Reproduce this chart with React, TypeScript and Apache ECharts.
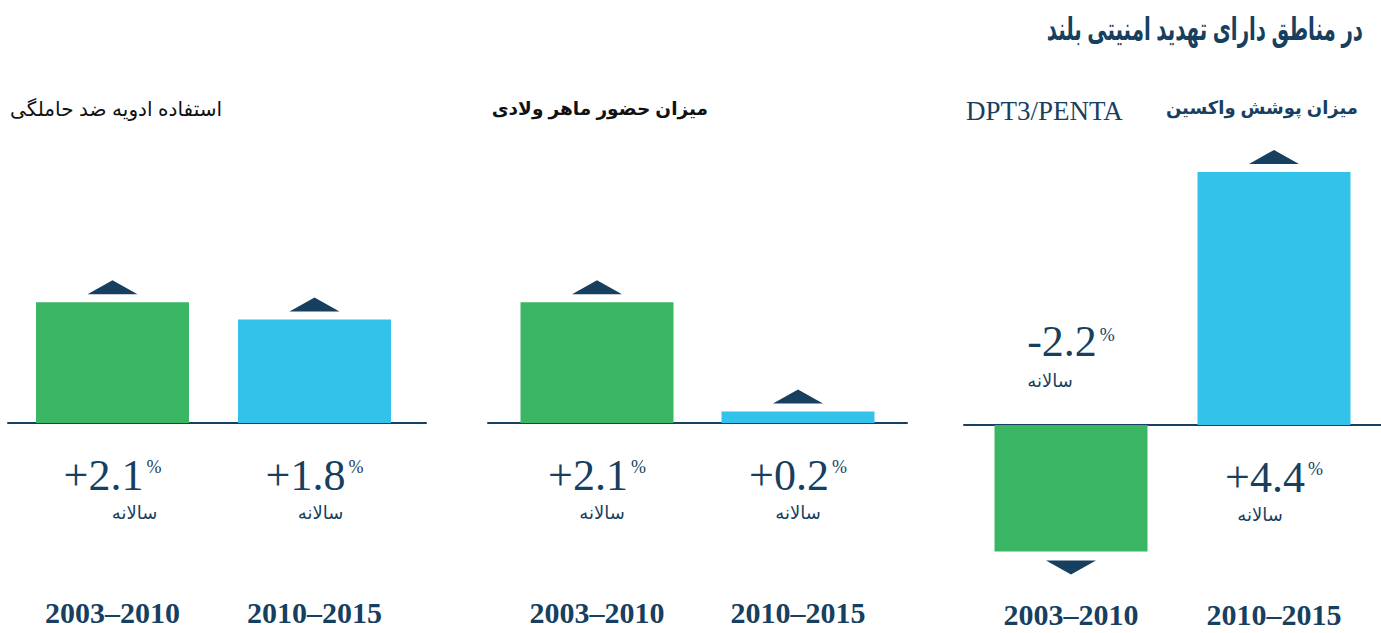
import React, { useEffect, useRef } from "react";
import * as echarts from "echarts";

const periods = ["2003–2010", "2010–2015"];
const contraceptiveUse = [2.1, 1.8];
const skilledBirthAttendance = [2.1, 0.2];
const vaccinationCoverage = [-2.2, 4.4];
const mainTitle = "در مناطق دارای تهدید امنیتی بلند";
const contraceptiveTitle = "استفاده ادویه ضد حاملگی";
const skilledBirthTitle = "میزان حضور ماهر ولادی";
const vaccinationTitle = "میزان پوشش واکسین";
const vaccinationSubtitle = "DPT3/PENTA";
const annualLabel = "سالانه";
const percentSign = "%";

const NAVY = "#173f5f";
const GREEN = "#3ab563";
const BLUE = "#32c2ea";
const periodColors = [GREEN, BLUE];
const SERIF = "Liberation Serif";
const SANS = "Liberation Sans, DejaVu Sans, sans-serif";
const NUM_SIZE = 44;
const PCT_SIZE = 18;
const PCT_GAP = 3;
const Y_MIN = -3;
const Y_MAX = 5;

const panels = [
  {
    values: contraceptiveUse,
    grid: { left: 11.5, width: 404, top: 135.5, height: 460 },
    lineGrid: { left: 8, width: 418 },
    annualShift: [22, 6],
  },
  {
    values: skilledBirthAttendance,
    grid: { left: 496.5, width: 402, top: 135.5, height: 460 },
    lineGrid: { left: 488, width: 419 },
    annualShift: [5, 0],
  },
  {
    values: vaccinationCoverage,
    grid: { left: 969.5, width: 406, top: 137.5, height: 460 },
    lineGrid: { left: 964, width: 417 },
    annualShift: [-21, -14],
  },
];

function fmt(v: number) {
  return (v > 0 ? "+" : "-") + Math.abs(v).toFixed(1);
}

let measureCtx: CanvasRenderingContext2D | null = null;
function textWidth(text: string, font: string) {
  if (!measureCtx) measureCtx = document.createElement("canvas").getContext("2d");
  if (!measureCtx) return text.length * 20;
  measureCtx.font = font;
  return measureCtx.measureText(text).width;
}

export default function App() {
  const ref = useRef<HTMLDivElement>(null);
  useEffect(() => {
    if (!ref.current) return;
    const chart = echarts.init(ref.current, null, { renderer: "svg" });
    const grid: any[] = [];
    const xAxis: any[] = [];
    const yAxis: any[] = [];
    const series: any[] = [];
    const pctW = textWidth(percentSign, `${PCT_SIZE}px ${SERIF}`);
    panels.forEach((p, i) => {
      // data grid (index i) and baseline grid (index 3 + i)
      grid[i] = { ...p.grid, containLabel: false };
      grid[3 + i] = { ...p.lineGrid, top: p.grid.top, height: p.grid.height, containLabel: false };
      xAxis[i] = {
        type: "category",
        gridIndex: i,
        data: periods,
        position: "bottom",
        axisLine: { show: false, onZero: false },
        axisTick: { show: false },
        axisLabel: {
          show: true,
          margin: 2,
          fontFamily: SERIF,
          fontWeight: "bold",
          fontSize: 30,
          color: NAVY,
        },
      };
      xAxis[3 + i] = {
        type: "category",
        gridIndex: 3 + i,
        data: periods,
        position: "bottom",
        axisLine: { show: true, onZero: true, lineStyle: { color: NAVY, width: 2 } },
        axisTick: { show: false },
        axisLabel: { show: false },
      };
      yAxis[i] = { type: "value", gridIndex: i, min: Y_MIN, max: Y_MAX, show: false };
      yAxis[3 + i] = { type: "value", gridIndex: 3 + i, min: Y_MIN, max: Y_MAX, show: false };
    });
    panels.forEach((p, i) => {
      series.push({
        type: "bar",
        xAxisIndex: i,
        yAxisIndex: i,
        barWidth: 153,
        data: p.values.map((v, k) => ({ value: v, itemStyle: { color: periodColors[k] } })),
      });
      series.push({
        type: "scatter",
        xAxisIndex: i,
        yAxisIndex: i,
        symbol: "triangle",
        symbolSize: [50, 14],
        itemStyle: { color: NAVY, opacity: 1 },
        data: p.values.map((v) => ({
          value: v,
          symbolRotate: v < 0 ? 180 : 0,
          symbolOffset: [0, v < 0 ? 16 : -15],
        })),
      });
      const labelSeries = (label: any, data: any[]) => ({
        type: "scatter",
        xAxisIndex: i,
        yAxisIndex: i,
        symbolSize: 1,
        silent: true,
        itemStyle: { color: "rgba(0,0,0,0)", opacity: 1 },
        label: { show: true, color: NAVY, ...label },
        data,
      });
      // growth number
      series.push(
        labelSeries(
          { fontFamily: SERIF, fontSize: NUM_SIZE, align: "right" },
          p.values.map((v) => {
            const w = textWidth(fmt(v), `${NUM_SIZE}px ${SERIF}`);
            const block = w + PCT_GAP + pctW;
            return {
              value: 0,
              label: {
                position: v < 0 ? "top" : "bottom",
                distance: v < 0 ? 61 : 30,
                formatter: fmt(v),
                offset: [-block / 2 + w, 0],
              },
            };
          })
        )
      );
      // percent sign
      series.push(
        labelSeries(
          { fontFamily: SERIF, fontSize: PCT_SIZE, align: "left" },
          p.values.map((v) => {
            const w = textWidth(fmt(v), `${NUM_SIZE}px ${SERIF}`);
            const block = w + PCT_GAP + pctW;
            return {
              value: 0,
              label: {
                position: v < 0 ? "top" : "bottom",
                distance: v < 0 ? 81 : 34,
                formatter: percentSign,
                offset: [-block / 2 + w + PCT_GAP, 0],
              },
            };
          })
        )
      );
      // "annual"
      series.push(
        labelSeries(
          { fontFamily: SANS, fontSize: 18, align: "center" },
          p.values.map((v, k) => ({
            value: 0,
            label: {
              position: v < 0 ? "top" : "bottom",
              distance: v < 0 ? 35 : 80,
              formatter: annualLabel,
              offset: [p.annualShift[k], 0],
            },
          }))
        )
      );
    });
    chart.setOption({
      animation: false,
      textStyle: { fontFamily: SERIF },
      title: [
        {
          text: contraceptiveTitle,
          left: 10,
          top: 99,
          padding: 0,
          textStyle: { fontFamily: SANS, fontWeight: "normal", fontSize: 20, color: "#111" },
        },
        {
          text: skilledBirthTitle,
          right: 673,
          top: 99,
          padding: 0,
          textStyle: { fontFamily: SANS, fontWeight: "bold", fontSize: 18.5, color: "#111" },
        },
        {
          text: vaccinationTitle,
          right: 23,
          top: 99,
          padding: 0,
          textStyle: { fontFamily: SANS, fontWeight: "bold", fontSize: 18, color: NAVY },
        },
        {
          text: vaccinationSubtitle,
          left: 966,
          top: 97,
          padding: 0,
          textStyle: { fontFamily: SERIF, fontWeight: "normal", fontSize: 27, color: NAVY },
        },
      ],
      graphic: [
        {
          type: "text",
          x: 1363,
          y: 29,
          scaleX: 0.62,
          style: {
            text: mainTitle,
            fontFamily: SANS,
            fontWeight: "bold",
            fontSize: 32,
            fill: NAVY,
            align: "right",
            verticalAlign: "middle",
          },
        },
      ],
      grid,
      xAxis,
      yAxis,
      series,
    });
    return () => chart.dispose();
  }, []);
  return <div ref={ref} style={{ width: 1381, height: 633, position: "absolute", left: 0, top: 0 }} />;
}
